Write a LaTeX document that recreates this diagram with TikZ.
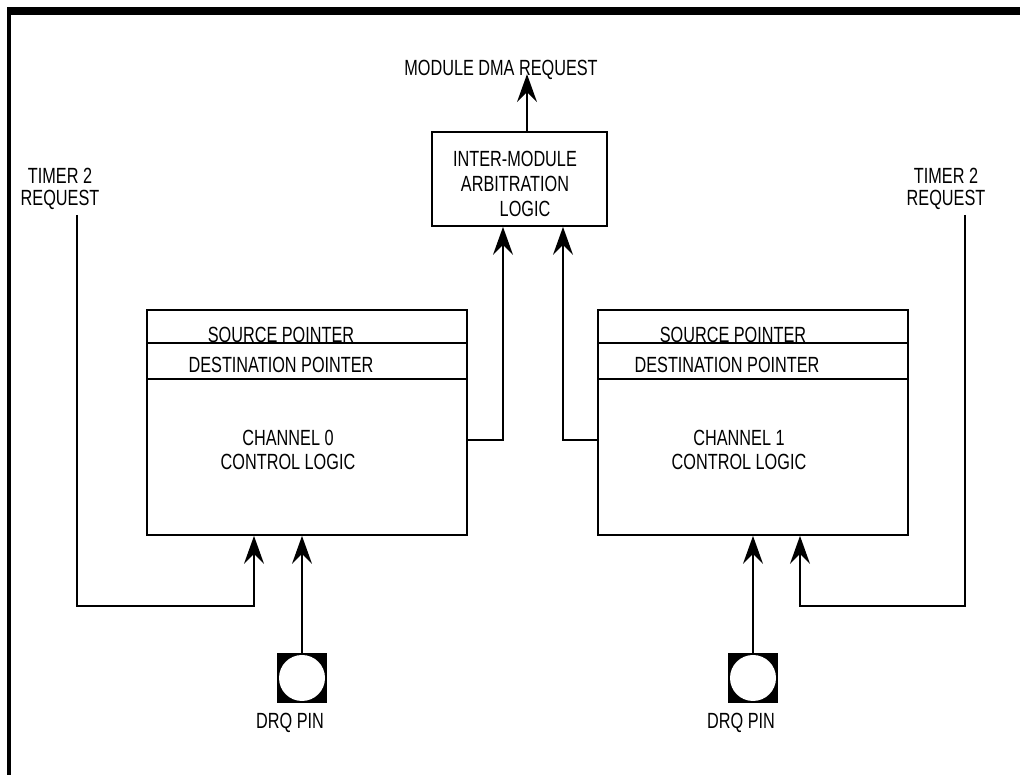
\documentclass[tikz,border=0pt]{standalone}
\usepackage{fontspec}
\usepackage{tikz}
\usetikzlibrary{arrows.meta,positioning}
\newfontfamily\narrowfont{Liberation Sans}[FakeStretch=0.74]

\tikzset{
  every node/.style={font=\narrowfont\fontsize{12.5}{14}\selectfont, inner sep=1pt},
  block/.style={draw, line width=1pt, inner sep=0pt},
  sig/.style={line width=0.9pt, -{Stealth[length=0.56cm, width=0.4cm, inset=0.2cm]}},
  drqpin/.style={fill=black, minimum size=1cm, inner sep=0pt,
    path picture={\fill[white] (path picture bounding box.center) circle (0.46);}},
}

\begin{document}
\begin{tikzpicture}
    \useasboundingbox (0,0) rectangle (20.4,15.5);
    % frame
    \fill (0.14,15.2) rectangle (20.4,15.36);
    \fill (0.14,0) rectangle (0.22,15.36);

    % arbitration
    \node[block, minimum width=3.5cm, minimum height=1.88cm] (arb) at (10.39,11.92) {};
    \node[align=center] (arbtext) at (10.3,11.82) {INTER-MODULE\\ARBITRATION\\\hspace*{0.4cm}LOGIC};
    \node (dma) at (10.02,14.1) {MODULE DMA REQUEST};
    \draw[sig] ([xshift=0.15cm]arb.north) -- ++(0,1.14);

    % channel 0
    \node[block, minimum width=6.4cm, minimum height=4.5cm] (ch0) at (6.14,7.05) {};
    \draw[line width=1pt] ([yshift=-0.68cm]ch0.north west) -- ([yshift=-0.68cm]ch0.north east);
    \draw[line width=1pt] ([yshift=-1.4cm]ch0.north west) -- ([yshift=-1.4cm]ch0.north east);
    \node (src0) at (5.62,8.8) {SOURCE POINTER};
    \node (dst0) at (5.62,8.2) {DESTINATION POINTER};
    \node[align=center] (ctl0) at (5.76,6.5) {CHANNEL 0\\CONTROL LOGIC};

    % channel 1
    \node[block, minimum width=6.2cm, minimum height=4.5cm] (ch1) at (15.06,7.05) {};
    \draw[line width=1pt] ([yshift=-0.68cm]ch1.north west) -- ([yshift=-0.68cm]ch1.north east);
    \draw[line width=1pt] ([yshift=-1.4cm]ch1.north west) -- ([yshift=-1.4cm]ch1.north east);
    \node (src1) at (14.66,8.8) {SOURCE POINTER};
    \node (dst1) at (14.54,8.2) {DESTINATION POINTER};
    \node[align=center] (ctl1) at (14.78,6.5) {CHANNEL 1\\CONTROL LOGIC};

    % requests to the arbiter
    \draw[sig] ([yshift=-0.35cm]ch0.east) -| ([xshift=-0.33cm]arb.south);
    \draw[sig] ([yshift=-0.35cm]ch1.west) -| ([xshift=0.87cm]arb.south);

    % drq pins
    \node[drqpin] (pin0) at (6.04,1.94) {};
    \node (drq0) at (5.8,1.04) {DRQ PIN};
    \draw[sig] (pin0) -- (pin0 |- ch0.south);
    \node[drqpin] (pin1) at (15.06,1.94) {};
    \node (drq1) at (14.82,1.04) {DRQ PIN};
    \draw[sig] (pin1) -- (pin1 |- ch1.south);

    % timer 2 requests
    \node[align=center, font=\narrowfont\fontsize{12.5}{12.5}\selectfont] (tmr0) at (1.2,11.72) {TIMER 2\\REQUEST};
    \coordinate (t0) at (1.54,11.2);
    \coordinate (tin0) at ([xshift=-0.96cm]pin0 |- ch0.south);
    \draw[sig] (t0) -- ++(0,-7.82) -| (tin0);
    \node[align=center, font=\narrowfont\fontsize{12.5}{12.5}\selectfont] (tmr1) at (18.92,11.72) {TIMER 2\\REQUEST};
    \coordinate (t1) at (19.3,11.2);
    \coordinate (tin1) at ([xshift=0.94cm]pin1 |- ch1.south);
    \draw[sig] (t1) -- ++(0,-7.82) -| (tin1);
\end{tikzpicture}
\end{document}
